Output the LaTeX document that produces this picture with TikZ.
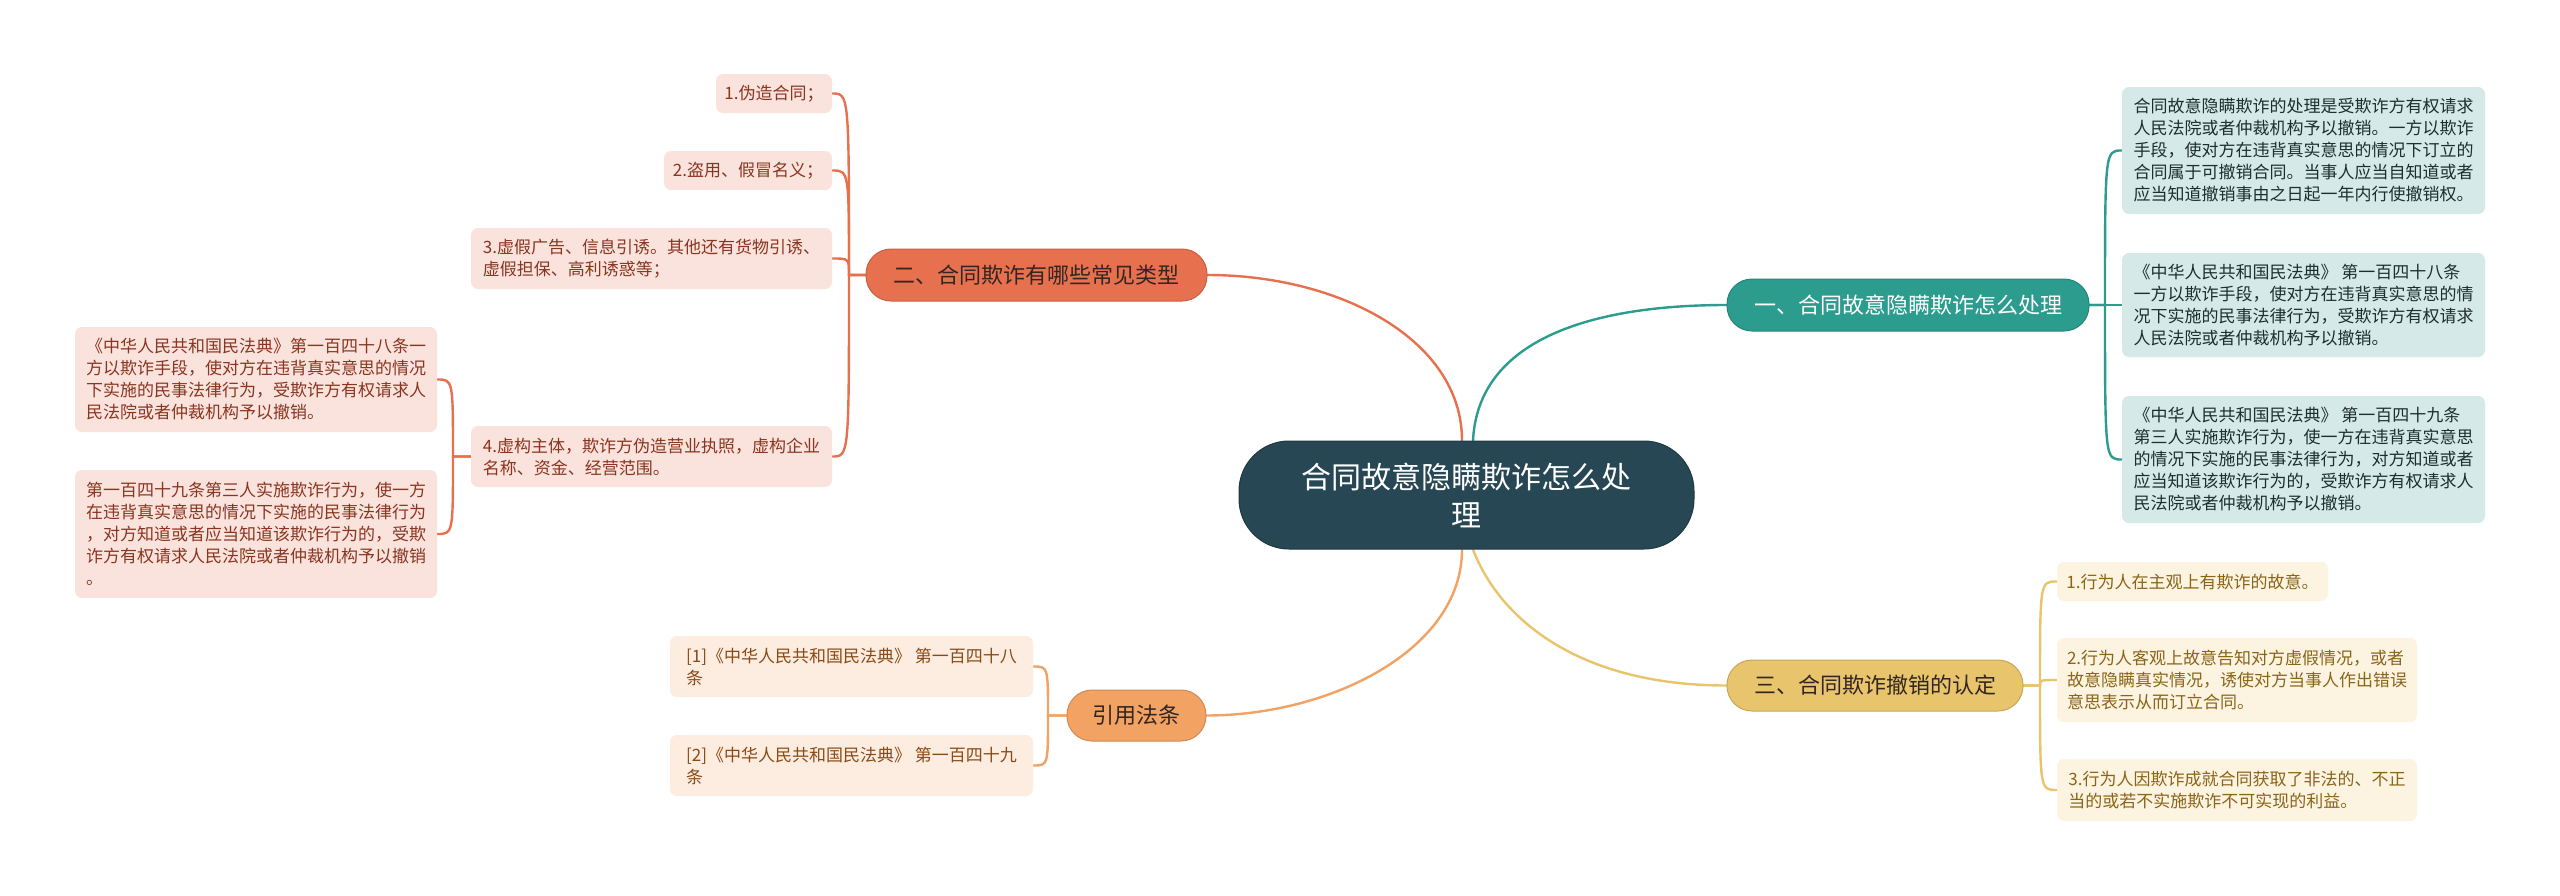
\documentclass[tikz,border=0pt]{standalone}
\usepackage{fontspec}
\newfontfamily\cjk{Noto Sans CJK SC}
\pgfdeclarelayer{bg}
\pgfsetlayers{bg,main}
\definecolor{centerc}{HTML}{274754}
\definecolor{redc}{HTML}{E7714F}
\definecolor{tealc}{HTML}{2B9C8E}
\definecolor{yelc}{HTML}{E8C46C}
\definecolor{orac}{HTML}{F2A263}
\definecolor{redsub}{HTML}{FAE3DD}
\definecolor{tealsub}{HTML}{D5EAE8}
\definecolor{yelsub}{HTML}{FCF3E1}
\definecolor{orasub}{HTML}{FDECE0}
\definecolor{redtxt}{HTML}{8A3520}
\definecolor{tealtxt}{HTML}{1E2E2C}
\definecolor{yeltxt}{HTML}{8A6518}
\definecolor{oratxt}{HTML}{8A4A14}
\definecolor{darktxt}{HTML}{332622}
\begin{document}
\begin{tikzpicture}[x=1pt,y=-1pt,
  sub/.style={rounded corners=7pt, inner xsep=0pt, inner ysep=0pt, align=left,
    font=\cjk\fontsize{17}{22}\selectfont},
  redbox/.style={sub, fill=redsub, text=redtxt},
  tealbox/.style={sub, fill=tealsub, text=tealtxt},
  yelbox/.style={sub, fill=yelsub, text=yeltxt},
  orabox/.style={sub, fill=orasub, text=oratxt},
  mainnode/.style={rounded corners=25pt, inner xsep=0pt, inner ysep=0pt, line width=1pt,
    font=\cjk\fontsize{22}{28}\selectfont},
  conn/.style={line width=2.4pt, line cap=round}
]
\useasboundingbox (0,0) rectangle (2560,895);
\begin{pgfonlayer}{bg}
\fill[white] (0,0) rectangle (2560,895);
\end{pgfonlayer}

% center
\node[rounded corners=50pt, fill=centerc, draw=centerc!80!black, line width=1pt, text=white,
  align=center, font=\cjk\fontsize{30}{38}\selectfont,
  minimum width=455pt, minimum height=108pt, inner sep=0pt] (c) at (1466.5,495)
  {合同故意隐瞒欺诈怎么处\\理};

% main branches
\node[mainnode, fill=redc, draw=redc!85!black, text=darktxt, minimum width=341pt, minimum height=52pt] (er) at (1036.5,275) {二、合同欺诈有哪些常见类型};
\node[mainnode, fill=tealc, draw=tealc!85!black, text=white, minimum width=362pt, minimum height=52pt] (yi) at (1908,305) {一、合同故意隐瞒欺诈怎么处理};
\node[mainnode, fill=yelc, draw=yelc!85!black, text=darktxt, minimum width=296pt, minimum height=51pt] (san) at (1875,685.5) {三、合同欺诈撤销的认定};
\node[mainnode, fill=orac, draw=orac!85!black, text=darktxt, minimum width=139pt, minimum height=51pt] (yy) at (1136.5,715.5) {引用法条};

% 二 children
\node[redbox, minimum width=116pt, minimum height=39pt] (b1) at (774,93.5) {1.伪造合同；};
\node[redbox, minimum width=168pt, minimum height=39pt] (b2) at (748,170.5) {2.盗用、假冒名义；};
\node[redbox, minimum width=361pt, minimum height=61pt] (b3) at (651.5,258.5) {3.虚假广告、信息引诱。其他还有货物引诱、\\虚假担保、高利诱惑等；};
\node[redbox, minimum width=361pt, minimum height=61pt] (b4) at (651.5,456.5) {4.虚构主体，欺诈方伪造营业执照，虚构企业\\名称、资金、经营范围。};
\node[redbox, minimum width=362pt, minimum height=105pt] (la) at (256,379.5) {《中华人民共和国民法典》第一百四十八条一\\方以欺诈手段，使对方在违背真实意思的情况\\下实施的民事法律行为，受欺诈方有权请求人\\民法院或者仲裁机构予以撤销。};
\node[redbox, minimum width=362pt, minimum height=128pt] (lb) at (256,534) {第一百四十九条第三人实施欺诈行为，使一方\\在违背真实意思的情况下实施的民事法律行为\\，对方知道或者应当知道该欺诈行为的，受欺\\诈方有权请求人民法院或者仲裁机构予以撤销\\。};

% 一 children
\node[tealbox, minimum width=363pt, minimum height=127pt] (r1) at (2303.5,150.5) {合同故意隐瞒欺诈的处理是受欺诈方有权请求\\人民法院或者仲裁机构予以撤销。一方以欺诈\\手段，使对方在违背真实意思的情况下订立的\\合同属于可撤销合同。当事人应当自知道或者\\应当知道撤销事由之日起一年内行使撤销权。};
\node[tealbox, minimum width=363pt, minimum height=104pt] (r2) at (2303.5,305) {《中华人民共和国民法典》 第一百四十八条\\一方以欺诈手段，使对方在违背真实意思的情\\况下实施的民事法律行为，受欺诈方有权请求\\人民法院或者仲裁机构予以撤销。};
\node[tealbox, minimum width=363pt, minimum height=127pt] (r3) at (2303.5,459.5) {《中华人民共和国民法典》 第一百四十九条\\第三人实施欺诈行为，使一方在违背真实意思\\的情况下实施的民事法律行为，对方知道或者\\应当知道该欺诈行为的，受欺诈方有权请求人\\民法院或者仲裁机构予以撤销。};

% 三 children
\node[yelbox, minimum width=271pt, minimum height=39pt] (t1) at (2192.5,581.5) {1.行为人在主观上有欺诈的故意。};
\node[yelbox, minimum width=360pt, minimum height=84pt] (t2) at (2237,680) {2.行为人客观上故意告知对方虚假情况，或者\\故意隐瞒真实情况，诱使对方当事人作出错误\\意思表示从而订立合同。};
\node[yelbox, minimum width=360pt, minimum height=62pt] (t3) at (2237,790) {3.行为人因欺诈成就合同获取了非法的、不正\\当的或若不实施欺诈不可实现的利益。};

% 引用 children
\node[orabox, minimum width=363pt, minimum height=61pt] (q1) at (851.5,666.5) {[1]《中华人民共和国民法典》 第一百四十八\\条};
\node[orabox, minimum width=363pt, minimum height=61pt] (q2) at (851.5,765.5) {[2]《中华人民共和国民法典》 第一百四十九\\条};

% junctions
\coordinate (jer) at (849,275);
\coordinate (jb4) at (453,456.5);
\coordinate (jyi) at (2105,305);
\coordinate (jsan) at (2040,685.5);
\coordinate (jyy) at (1048,715.5);

\begin{pgfonlayer}{bg}
% main connectors
\draw[conn, redc] ([xshift=-4.5pt]c.north) .. controls (1462,340) and (1340,275) .. (er.east);
\draw[conn, tealc] ([xshift=6.5pt]c.north) .. controls (1478,340) and (1590,305) .. (yi.west);
\draw[conn, orac] ([xshift=-4.5pt]c.south) .. controls (1462,650) and (1330,715.5) .. (yy.east);
\draw[conn, yelc] ([xshift=6.5pt]c.south) .. controls (1500,620) and (1580,685.5) .. (san.west);
% 二
\foreach \ch in {b1,b2,b3,b4}
  \draw[conn, redc] (er.west) -- (jer) .. controls (jer |- \ch.east) .. (\ch.east);
\foreach \ch in {la,lb}
  \draw[conn, redc] (b4.west) -- (jb4) .. controls (jb4 |- \ch.east) .. (\ch.east);
% 一
\foreach \ch in {r1,r2,r3}
  \draw[conn, tealc] (yi.east) -- (jyi) .. controls (jyi |- \ch.west) .. (\ch.west);
% 三
\foreach \ch in {t1,t2,t3}
  \draw[conn, yelc] (san.east) -- (jsan) .. controls (jsan |- \ch.west) .. (\ch.west);
% 引用
\foreach \ch in {q1,q2}
  \draw[conn, orac] (yy.west) -- (jyy) .. controls (jyy |- \ch.east) .. (\ch.east);
\end{pgfonlayer}
\end{tikzpicture}
\end{document}
